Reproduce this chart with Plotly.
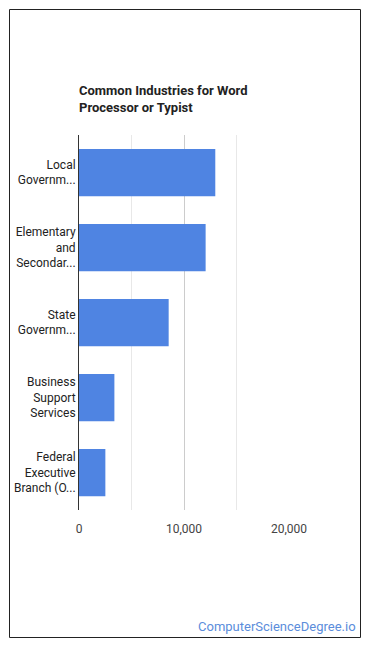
import plotly.graph_objects as go

categories = ["Local<br>Governm...", "Elementary<br>and<br>Secondar...", "State<br>Governm...",
              "Business<br>Support<br>Services", "Federal<br>Executive<br>Branch (O..."]
values = [12980, 12060, 8540, 3370, 2510]
tick_vals = [0, 10000, 20000]
tick_text = ["0", "10,000", "20,000"]

W, H = 370, 648
L, R, T, B = 79, 289, 135, 510

fig = go.Figure(go.Bar(
    x=values, y=categories, orientation="h",
    marker=dict(color="#4f84e2", line=dict(width=0)),
    hoverinfo="x+y",
))

fig.update_layout(
    width=W, height=H,
    margin=dict(l=L, r=W - R, t=T, b=H - B, pad=0),
    paper_bgcolor="white", plot_bgcolor="white",
    bargap=0.37,
    showlegend=False,
    font=dict(family="Roboto, Arial, sans-serif", size=12, color="#222222"),
    xaxis=dict(
        range=[0, 20000], tickvals=tick_vals, ticktext=tick_text,
        showgrid=True, gridcolor="#cccccc", gridwidth=1,
        minor=dict(dtick=5000, tick0=0, showgrid=True, gridcolor="#e8e8e8", gridwidth=1),
        zeroline=False, showline=False,
        ticks="outside", ticklen=8, tickcolor="rgba(0,0,0,0)", fixedrange=True,
        tickfont=dict(size=12, color="#444444"),
    ),
    yaxis=dict(
        autorange="reversed", showline=True, linecolor="#333333", linewidth=1,
        ticks="", showgrid=False, fixedrange=True,
        tickfont=dict(size=12, color="#222222"),
    ),
    shapes=[dict(type="rect", xref="paper", yref="paper",
                 x0=(9.5 - L) / (R - L), x1=(360.5 - L) / (R - L),
                 y0=(B - 637.5) / (B - T), y1=(B - 9.5) / (B - T),
                 line=dict(color="#222222", width=1), fillcolor="rgba(0,0,0,0)", layer="below")],
    annotations=[
        dict(text="<b>Common Industries for Word<br>Processor or Typist</b>",
             xref="paper", yref="paper", x=(77 - L) / (R - L), y=(B - 81) / (B - T),
             xanchor="left", yanchor="top", align="left", showarrow=False,
             font=dict(size=13, color="#222222")),
        dict(text="ComputerScienceDegree.io", xref="paper", yref="paper",
             x=(358 - L) / (R - L), y=(B - 626) / (B - T), xanchor="right", yanchor="middle",
             showarrow=False, font=dict(size=13, color="#5b8ddb")),
    ],
)

fig.write_html("out.html", config={"displayModeBar": False},
               post_script="document.body.style.margin='0px';")
